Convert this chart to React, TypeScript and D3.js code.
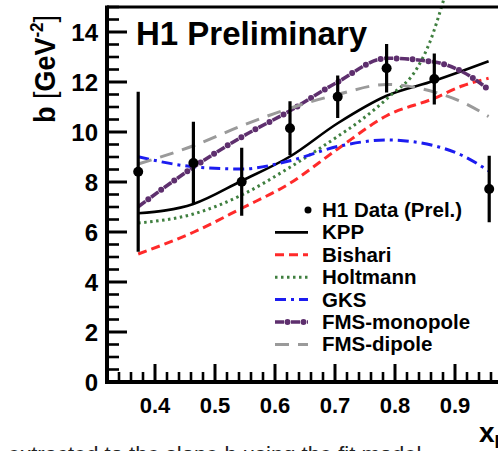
import React from "react";
import * as d3 from "d3";

// ---- data ----
const dataX = [0.372, 0.464, 0.5445, 0.625, 0.7045, 0.786, 0.8655, 0.957];
const dataB = [8.41, 8.76, 8.01, 10.15, 11.41, 12.55, 12.12, 7.72];
const dataErr = [3.2, 1.65, 1.36, 1.08, 0.85, 0.97, 1.02, 1.33];

const modelX = [0.372, 0.464, 0.5445, 0.625, 0.7045, 0.786, 0.8655, 0.913, 0.956];
const kpp = [6.75, 7.12, 8.05, 9.02, 10.35, 11.45, 12.05, 12.45, 12.83];
const bishari = [5.12, 5.99, 6.95, 7.95, 9.32, 10.65, 11.35, 11.85, 12.15];
const gks = [9.01, 8.61, 8.52, 8.85, 9.42, 9.68, 9.45, 9.05, 8.45];
const fmsMono = [7.01, 8.59, 9.8, 10.85, 12.0, 12.95, 12.8, 12.4, 11.7];
const fmsDip = [8.72, 9.45, 10.25, 10.95, 11.5, 11.9, 11.6, 11.19, 10.62];

const holtX = [0.372, 0.464, 0.5445, 0.625, 0.7, 0.742, 0.792, 0.836, 0.858, 0.881];
const holtmann = [6.36, 6.72, 7.48, 8.59, 9.75, 10.45, 11.45, 12.52, 13.59, 15.28];

const yTicks = [0, 2, 4, 6, 8, 10, 12, 14];
const xTicks = [0.4, 0.5, 0.6, 0.7, 0.8, 0.9];

const legendNames = ["KPP", "Bishari", "Holtmann", "GKS", "FMS-monopole", "FMS-dipole"];

const W = 498;
const H = 451;
const FONT = "'Liberation Sans', Arial, Helvetica, sans-serif";

const x = d3.scaleLinear().domain([0.32, 1.0]).range([107, 515]);
const y = d3.scaleLinear().domain([0, 15]).range([382, 7]);

const line = d3
  .line<[number, number]>()
  .x((d) => x(d[0]))
  .y((d) => y(d[1]))
  .curve(d3.curveMonotoneX);

const pts = (xs: number[], ys: number[]) => xs.map((v, i) => [v, ys[i]] as [number, number]);

type Sty = { stroke: string; width: number; dash?: string; kind?: string };
const styles: Sty[] = [
  { stroke: "#000000", width: 2.6 },
  { stroke: "#ff2a2a", width: 3, dash: "9,5" },
  { stroke: "#3f7f3f", width: 3, dash: "2.5,3.5" },
  { stroke: "#1c1cf0", width: 3, dash: "11,5,3,5" },
  { stroke: "#5e2f6e", width: 3.6, dash: "9,7", kind: "mono" },
  { stroke: "#9a9a9a", width: 3, dash: "14,9" },
];

const series = [
  pts(modelX, kpp),
  pts(modelX, bishari),
  pts(holtX, holtmann),
  pts(modelX, gks),
  pts(modelX, fmsMono),
  pts(modelX, fmsDip),
];

function Curve({ d, s }: { d: string; s: Sty }) {
  if (s.kind === "mono") {
    return (
      <g>
        <path d={d} fill="none" stroke={s.stroke} strokeWidth={s.width} strokeDasharray={s.dash} />
        <path
          d={d}
          fill="none"
          stroke={s.stroke}
          strokeWidth={6}
          strokeLinecap="round"
          strokeDasharray="0,16"
          strokeDashoffset={-12.5}
        />
      </g>
    );
  }
  return <path d={d} fill="none" stroke={s.stroke} strokeWidth={s.width} strokeDasharray={s.dash} />;
}

export default function App() {
  const yMinor = d3.range(0, 15.01, 0.5).filter((v) => Math.abs(v % 2) > 1e-6);
  const xMinor = d3.range(0.32, 1.0, 0.02).filter((v) => Math.abs(Math.round(v * 10) - v * 10) > 1e-6);
  const legendY0 = 210;
  const legendDy = 22.4;

  return (
    <svg
      width={W}
      height={H}
      style={{ position: "fixed", left: 0, top: 0, background: "#fff" }}
      fontFamily={FONT}
    >
      <rect x={0} y={0} width={W} height={H} fill="#fff" />

      {/* curves */}
      {series.map((s, i) => (
        <Curve key={i} d={line(s) || ""} s={styles[i]} />
      ))}

      {/* data */}
      {dataX.map((v, i) => (
        <g key={i}>
          <line
            x1={x(v)}
            x2={x(v)}
            y1={y(dataB[i] - dataErr[i])}
            y2={y(dataB[i] + dataErr[i])}
            stroke="#000"
            strokeWidth={3.2}
          />
          <circle cx={x(v)} cy={y(dataB[i])} r={5} fill="#000" />
        </g>
      ))}

      {/* frame */}
      <line x1={107} x2={W} y1={y(15)} y2={y(15)} stroke="#000" strokeWidth={3} />
      <line x1={107} x2={107} y1={y(15) - 1.5} y2={y(0) + 2} stroke="#000" strokeWidth={4} />
      <line x1={105} x2={W} y1={y(0)} y2={y(0)} stroke="#000" strokeWidth={4} />

      {/* y ticks */}
      {yTicks.map((t) => (
        <g key={"yt" + t}>
          <line x1={107} x2={127} y1={y(t)} y2={y(t)} stroke="#000" strokeWidth={3} />
          <text x={98} y={y(t) + 8.5} textAnchor="end" fontSize={24} fontWeight="bold">
            {t}
          </text>
        </g>
      ))}
      {yMinor.map((t) => (
        <line key={"ym" + t} x1={107} x2={119} y1={y(t)} y2={y(t)} stroke="#000" strokeWidth={2.6} />
      ))}

      {/* x ticks */}
      {xTicks.map((t) => (
        <g key={"xt" + t}>
          <line x1={x(t)} x2={x(t)} y1={y(0)} y2={y(0) - 18} stroke="#000" strokeWidth={3} />
          <text x={x(t)} y={y(0) + 31} textAnchor="middle" fontSize={22} fontWeight="bold">
            {t.toFixed(1)}
          </text>
        </g>
      ))}
      {xMinor.map((t) => (
        <line key={"xm" + t} x1={x(t)} x2={x(t)} y1={y(0)} y2={y(0) - 10} stroke="#000" strokeWidth={2.6} />
      ))}

      {/* title */}
      <text x={136} y={45} fontSize={33} fontWeight="bold">
        H1 Preliminary
      </text>

      {/* y label */}
      <g transform="translate(55,69) rotate(-90)">
        <g transform="scale(0.9,1)">
          <text x={0} y={0} textAnchor="middle" fontSize={30} fontWeight="bold">
            b <tspan fontWeight="normal">[</tspan>GeV
            <tspan fontSize={19} dy={-12}>-2</tspan>
            <tspan fontWeight="normal" dy={12}>]</tspan>
          </text>
        </g>
      </g>

      {/* x label */}
      <text x={479} y={442} fontSize={28} fontWeight="bold">
        x<tspan fontSize={18} dy={6}>IP</tspan>
      </text>

      {/* caption line below, mostly outside the picture */}
      <text x={8} y={462} fontSize={22} fill="#222">
        extracted to the slope b using the fit model
      </text>

      {/* legend */}
      <circle cx={308} cy={legendY0} r={3.5} fill="#000" />
      <text x={322} y={legendY0 + 7} fontSize={20.5} fontWeight="bold">
        H1 Data (Prel.)
      </text>
      {legendNames.map((n, i) => {
        const ly = legendY0 + legendDy * (i + 1);
        const s = styles[i];
        const d = `M275,${ly}L308,${ly}`;
        return (
          <g key={n}>
            <Curve d={d} s={s} />
            <text x={322} y={ly + 7} fontSize={20.5} fontWeight="bold">
              {n}
            </text>
          </g>
        );
      })}
    </svg>
  );
}
